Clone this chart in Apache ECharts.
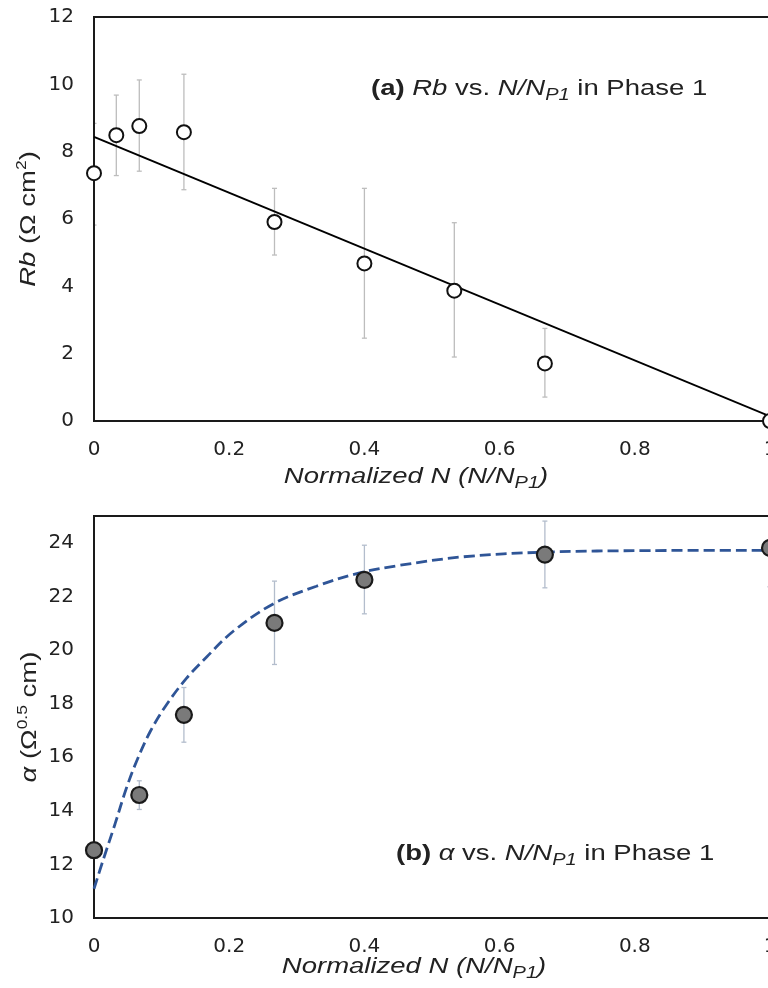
<!DOCTYPE html>
<html><head><meta charset="utf-8">
<script src="https://cdn.jsdelivr.net/npm/echarts@6/dist/echarts.min.js"></script>
<style>html,body{margin:0;padding:0;background:#fff;overflow:hidden}#c{width:768px;height:988px}</style>
</head><body><div id="c"></div>
<script>
// ---- data ----
const xTickLabels = ['0', '0.2', '0.4', '0.6', '0.8', '1'];
const rbX    = [0, 0.033, 0.067, 0.133, 0.267, 0.4, 0.533, 0.667, 1];
const rbY    = [7.36, 8.49, 8.76, 8.58, 5.91, 4.68, 3.87, 1.71, 0.0];
const rbHigh = [8.84, 9.68, 10.13, 10.30, 6.91, 6.91, 5.89, 2.75, null];
const rbLow  = [5.82, 7.29, 7.42, 6.87, 4.93, 2.46, 1.90, 0.71, null];
const rbFitX = [0, 1];
const rbFitY = [8.44, 0.14];
const alphaX    = [0, 0.067, 0.133, 0.267, 0.4, 0.667, 1];
const alphaY    = [12.53, 14.59, 17.58, 21.01, 22.62, 23.56, 23.81];
const alphaHigh = [null, 15.12, 18.60, 22.57, 23.91, 24.81, 25.2];
const alphaLow  = [null, 14.05, 16.56, 19.46, 21.35, 22.32, 22.36];
const alphaFitX = [0, 0.014, 0.031, 0.048, 0.063, 0.083, 0.107, 0.137, 0.167, 0.206, 0.265, 0.329, 0.393, 0.45, 0.547, 0.665, 0.823, 1.0];
const alphaFitY = [11.09, 12.2, 13.5, 14.85, 15.85, 16.95, 17.95, 18.95, 19.75, 20.7, 21.72, 22.38, 22.88, 23.15, 23.48, 23.65, 23.71, 23.72];

const TICKFONT = "'DejaVu Sans', 'Liberation Sans', sans-serif";
const FONT = "'Liberation Sans', Arial, sans-serif";
const TXT = '#222';
const SX = 1.25;
const chart = echarts.init(document.getElementById('c'), null, {renderer: 'canvas'});

const rich = {
  i: {fontFamily: FONT, fontSize: 22, fontStyle: 'italic', fontWeight: 'normal', fill: TXT, color: TXT},
  n: {fontFamily: FONT, fontSize: 22, fontStyle: 'normal', fontWeight: 'normal', fill: TXT, color: TXT},
  b: {fontFamily: FONT, fontSize: 22, fontStyle: 'normal', fontWeight: 'bold', fill: TXT, color: TXT},
  s: {fontFamily: FONT, fontSize: 16, fontStyle: 'italic', fontWeight: 'normal', fill: TXT, color: TXT, padding: [14, 0, 0, 0]},
  sup: {fontFamily: FONT, fontSize: 14, fontStyle: 'normal', fontWeight: 'normal', fill: TXT, color: TXT, padding: [0, 0, 14, 0]}
};

function txt(x, y, text, align, rotation) {
  return {type: 'text', x: x, y: y, rotation: rotation || 0, scaleX: SX, silent: true, z: 10,
    style: {text: text, rich: rich, align: align, verticalAlign: 'middle',
            fontFamily: FONT, fontSize: 22, fill: TXT}};
}

function pairs(xs, ys) { return xs.map((x, i) => [x, ys[i]]); }

function errSeries(xs, lows, highs, color, idx) {
  return {
    type: 'custom', xAxisIndex: idx, yAxisIndex: idx, z: -1, silent: true, clip: true,
    data: xs.map((x, i) => [x, lows[i], highs[i]]).filter(d => d[1] != null),
    encode: {x: 0, y: [1, 2]},
    renderItem: (params, api) => {
      const lo = api.coord([api.value(0), api.value(1)]);
      const hi = api.coord([api.value(0), api.value(2)]);
      const st = {stroke: color, lineWidth: 1.3};
      const cap = 2.5;
      return {type: 'group', children: [
        {type: 'line', shape: {x1: lo[0], y1: lo[1], x2: hi[0], y2: hi[1]}, style: st},
        {type: 'line', shape: {x1: lo[0] - cap, y1: lo[1], x2: lo[0] + cap, y2: lo[1]}, style: st},
        {type: 'line', shape: {x1: hi[0] - cap, y1: hi[1], x2: hi[0] + cap, y2: hi[1]}, style: st}
      ]};
    }
  };
}

function xAxisDef(idx) {
  return {
    type: 'value', gridIndex: idx, min: 0, max: 1, interval: 0.2,
    axisLine: {show: true, lineStyle: {color: '#1a1a1a', width: 2}},
    axisTick: {show: false}, splitLine: {show: false},
    axisLabel: {fontFamily: TICKFONT, fontSize: 20, color: TXT, margin: 19,
      formatter: v => xTickLabels[Math.round(v / 0.2)]}
  };
}
function yAxisDef(idx, min, max) {
  return {
    type: 'value', gridIndex: idx, min: min, max: max, interval: 2,
    axisLine: {show: true, lineStyle: {color: '#1a1a1a', width: 2}},
    axisTick: {show: false}, splitLine: {show: false},
    axisLabel: {fontFamily: TICKFONT, fontSize: 20, color: TXT, margin: 20, showMaxLabel: max % 2 === 0}
  };
}

const option = {
  backgroundColor: '#fff',
  animation: false,
  grid: [
    {left: 94, top: 17, width: 676, height: 404, show: true, borderColor: '#1a1a1a', borderWidth: 2,
     backgroundColor: 'transparent', outerBoundsMode: 'none', containLabel: false},
    {left: 94, top: 516, width: 676, height: 402, show: true, borderColor: '#1a1a1a', borderWidth: 2,
     backgroundColor: 'transparent', outerBoundsMode: 'none', containLabel: false}
  ],
  graphic: [
    txt(371, 89, '{b|(a)}{n| }{i|Rb}{n| vs. }{i|N/N}{s|P1}{n| in Phase 1}', 'left'),
    txt(396, 854, '{b|(b)}{n| }{i|α}{n| vs. }{i|N/N}{s|P1}{n| in Phase 1}', 'left'),
    txt(416, 477, '{i|Normalized N (N/N}{s|P1}{i|)}', 'center'),
    txt(414, 967, '{i|Normalized N (N/N}{s|P1}{i|)}', 'center'),
    txt(29, 219, '{i|Rb}{n| (Ω cm}{sup|2}{n|)}', 'center', Math.PI / 2),
    txt(30, 717, '{i|α}{n| (Ω}{sup|0.5}{n| cm)}', 'center', Math.PI / 2)
  ],
  xAxis: [xAxisDef(0), xAxisDef(1)],
  yAxis: [yAxisDef(0, 0, 12), yAxisDef(1, 10, 25)],
  series: [
    errSeries(rbX, rbLow, rbHigh, '#bdbdbd', 0),
    {type: 'line', xAxisIndex: 0, yAxisIndex: 0, z: 2, data: pairs(rbFitX, rbFitY),
     showSymbol: false, lineStyle: {color: '#000', width: 2}, silent: true},
    {type: 'scatter', xAxisIndex: 0, yAxisIndex: 0, z: 3, data: pairs(rbX, rbY),
     symbolSize: 14, itemStyle: {color: '#fff', borderColor: '#111', borderWidth: 2, opacity: 1}},
    errSeries(alphaX, alphaLow, alphaHigh, '#b3bdcc', 1),
    {type: 'line', xAxisIndex: 1, yAxisIndex: 1, z: 2, data: pairs(alphaFitX, alphaFitY),
     smooth: 0.35, showSymbol: false, silent: true,
     lineStyle: {color: '#2F5597', width: 2.8, type: [11, 5]}},
    {type: 'scatter', xAxisIndex: 1, yAxisIndex: 1, z: 3, data: pairs(alphaX, alphaY),
     symbolSize: 16, itemStyle: {color: '#7a7a7a', borderColor: '#1a1a1a', borderWidth: 2.2, opacity: 1}}
  ]
};
chart.setOption(option);
</script></body></html>
